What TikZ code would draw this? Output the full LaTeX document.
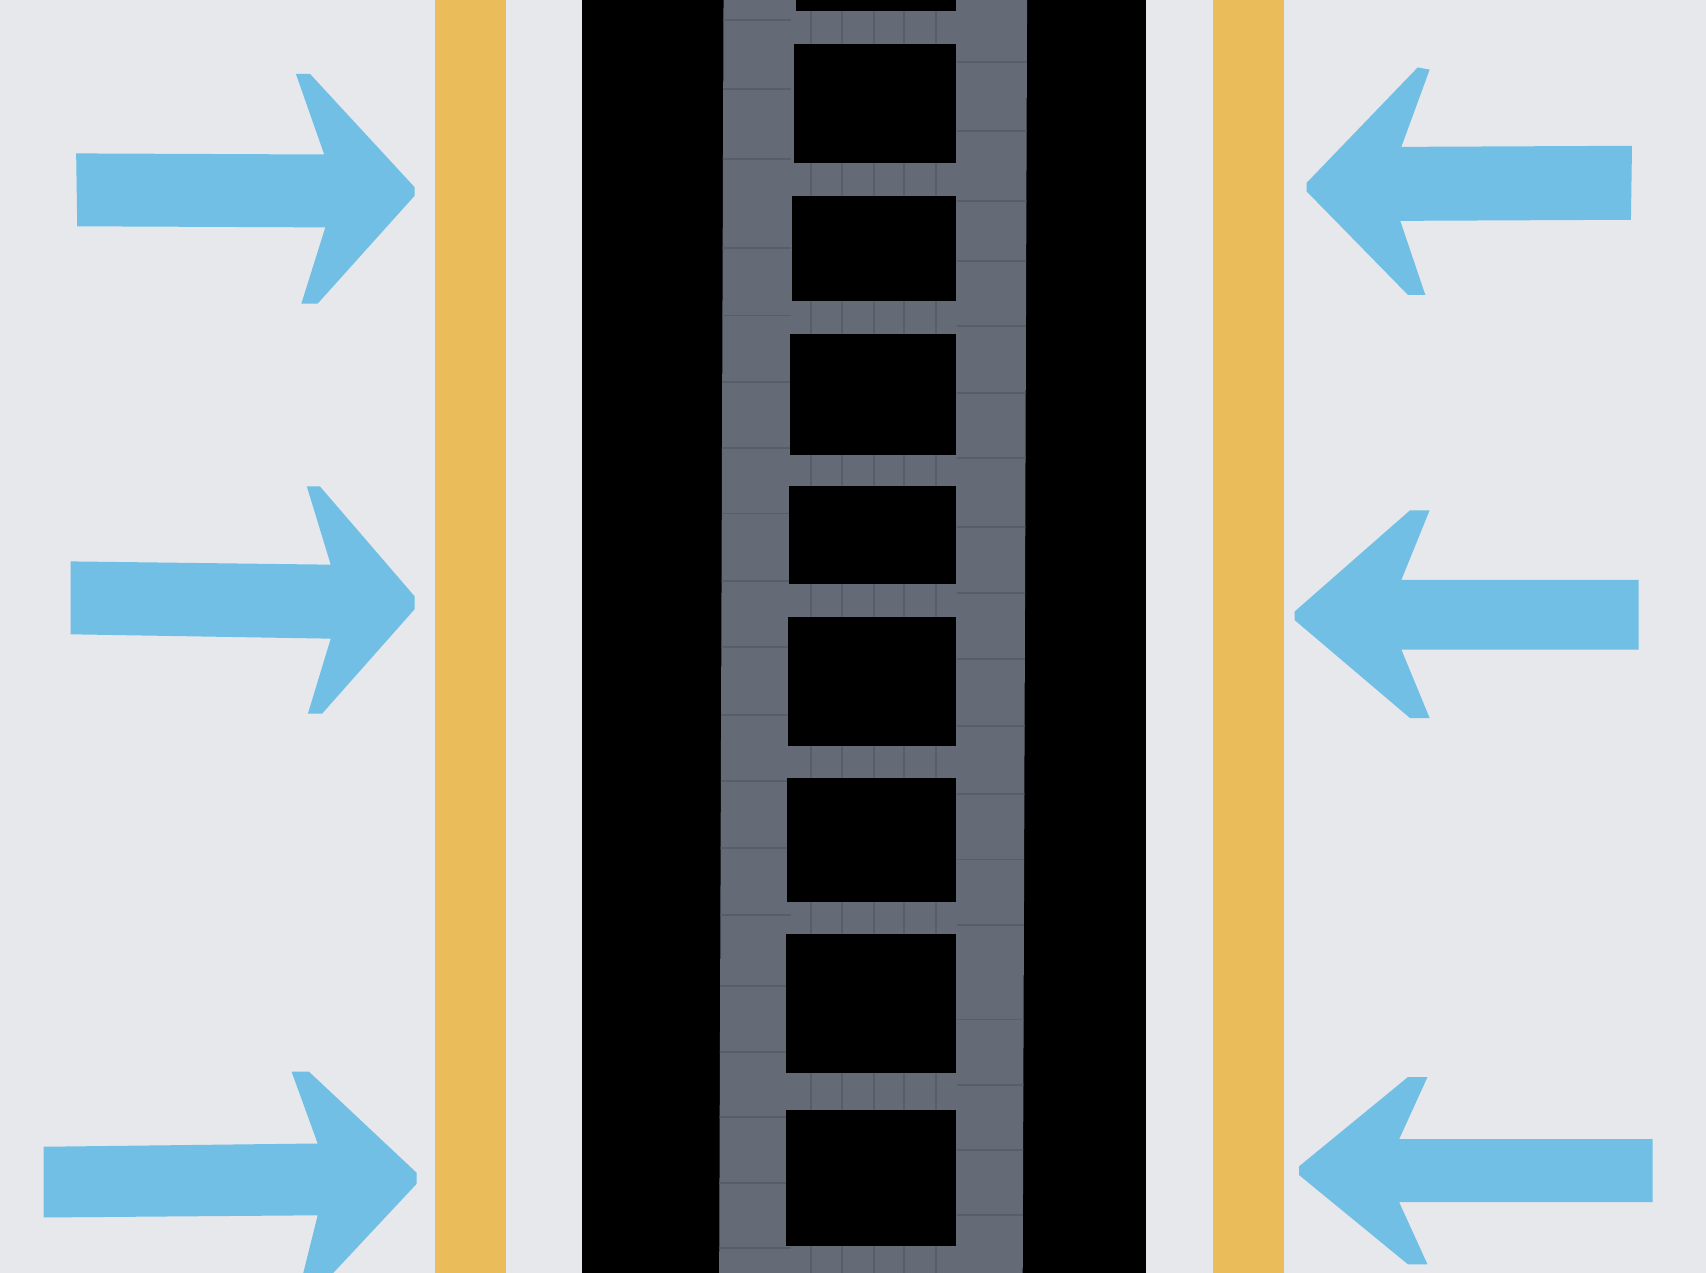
\documentclass[tikz,border=0pt]{standalone}
\usepackage{tikz}
\definecolor{bgGray}{RGB}{230,232,236}
\definecolor{barYellow}{RGB}{235,188,90}
\definecolor{railGray}{RGB}{100,107,119}
\definecolor{seamGray}{RGB}{88,94,105}
\definecolor{flowBlue}{RGB}{113,191,228}
\tikzset{
  bar/.style={fill=barYellow, draw=none},
  core/.style={fill=black, draw=none},
  rail/.style={fill=railGray, draw=none},
  seam/.style={draw=seamGray, line width=0.5pt},
  flow/.style={fill=flowBlue, draw=none},
}

\begin{document}
\begin{tikzpicture}[x=0.01cm, y=-0.01cm]

  \useasboundingbox (0,0) rectangle (1568,1170);
  \fill[bgGray] (0,0) rectangle (1568,1170);

  % yellow bars
  \fill[bar] (400,0)  rectangle (465,1170);
  \fill[bar] (1115,0) rectangle (1180,1170);

  % black core
  \fill[core] (535,0) rectangle (1053,1170);

  % ladder
  \fill[rail] (665,0) -- (944,0) -- (940,1170) -- (661,1170) -- cycle;

  \begin{scope}
    \clip (665,0) -- (944,0) -- (940,1170) -- (661,1170) -- cycle;
    % seams on the rails
    \foreach \y in {18,82,146,228,290,351,412,472,534,595,657,718,779,841,906,967,1027,1087,1147}
      \draw[seam] (655,\y) -- (727,\y);
    \foreach \y in {57,120,185,240,300,361,421,484,545,606,667,730,790,850,937,997,1057,1117}
      \draw[seam] (880,\y) -- (950,\y);
    % seams on the rungs
    \foreach \t/\b in {10/40, 150/180, 277/307, 418/447, 537/567,
                       686/715, 829/858, 986/1020, 1145/1170}
      \foreach \x in {745,774,803,831,860}
        \draw[seam] (\x,\t) -- (\x,\b);
  \end{scope}

  % windows
  \foreach \t/\b/\l in {0/10/732, 40/150/730, 180/277/728, 307/418/726,
                        447/537/725, 567/686/724, 715/829/723,
                        858/986/722, 1020/1145/722}
    \fill[core] (\l,\t) rectangle (879,\b);

  % arrows from the left
  \fill[flow] (70,141) -- (298,142) -- (272,68) -- (285,68) -- (381,172)
              -- (381,180) -- (292,279) -- (277,279) -- (299,209) -- (71,208) -- cycle;
  \fill[flow] (65,516) -- (304,519) -- (282,447) -- (294,447) -- (381,548)
              -- (381,560) -- (296,656) -- (283,656) -- (304,587) -- (65,583) -- cycle;
  \fill[flow] (40,1054) -- (292,1051) -- (268,985) -- (284,985) -- (383,1078)
              -- (383,1088) -- (296,1181) -- (276,1181) -- (292,1117) -- (40,1119) -- cycle;

  % arrows from the right
  \fill[flow] (1500,134) -- (1288,135) -- (1314,64) -- (1303,62) -- (1201,168)
              -- (1201,176) -- (1294,271) -- (1310,271) -- (1287,203) -- (1499,202) -- cycle;
  \fill[flow] (1506,533) -- (1288,533) -- (1314,469) -- (1296,469) -- (1190,562)
              -- (1190,570) -- (1296,660) -- (1314,660) -- (1288,597) -- (1506,597) -- cycle;
  \fill[flow] (1519,1047) -- (1286,1047) -- (1312,990) -- (1294,990) -- (1194,1072)
              -- (1194,1080) -- (1294,1162) -- (1312,1162) -- (1286,1105) -- (1519,1105) -- cycle;

\end{tikzpicture}
\end{document}
